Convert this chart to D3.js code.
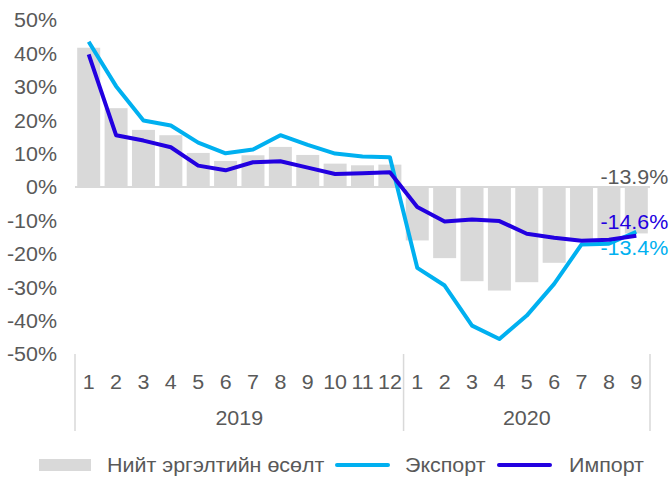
<!DOCTYPE html>
<html><head><meta charset="utf-8">
<script src="https://cdn.jsdelivr.net/npm/d3@7"></script>
<style>body{margin:0;background:#fff;} svg{display:block;font-family:"Liberation Sans",Arial,sans-serif;}</style>
</head><body>
<svg id="c" width="670" height="479"></svg>
<script>
const months = ["1","2","3","4","5","6","7","8","9","10","11","12","1","2","3","4","5","6","7","8","9"];
const years = [{label:"2019", n:12},{label:"2020", n:9}];
const totalGrowth = [41.7,23.6,17.1,15.5,10.2,7.8,9.5,12.0,9.6,7.0,6.5,6.7,-16.0,-21.3,-28.2,-31.0,-28.5,-22.7,-15.8,-15.3,-13.9];
const exportGrowth = [43.5,30.2,19.9,18.4,13.3,10.1,11.2,15.5,12.6,10.0,9.1,8.9,-24.2,-29.5,-41.5,-45.5,-38.5,-29.0,-17.2,-17.0,-13.4];
const importGrowth = [39.7,15.5,13.9,11.9,6.4,5.0,7.4,7.7,5.8,3.9,4.1,4.4,-6.0,-10.3,-9.7,-10.2,-14.0,-15.2,-16.1,-15.8,-14.6];
const yTicks = [50,40,30,20,10,0,-10,-20,-30,-40,-50];
const endLabels = ["-13.9%","-14.6%","-13.4%"];
const legendLabels = ["Нийт эргэлтийн өсөлт","Экспорт","Импорт"];

const cGray="#D9D9D9", cExp="#00B0F0", cImp="#2200E0", cText="#595959";
const FS = "19.5px", SX = 1.1, LW = 4;
const svg = d3.select("#c");
const idx = d3.range(months.length);
const x = d3.scaleBand().domain(idx).range([75,650]).paddingInner(0.16).paddingOuter(0.08);
const xc = i => x(i) + x.bandwidth()/2;
const y = d3.scaleLinear().domain([-50,50]).range([354,20]);

function label(g, px, py, str, anchor, fill){
  return g.append("text").attr("transform",`translate(${px},${py}) scale(${SX},1)`)
    .attr("dy","0.35em").attr("text-anchor",anchor).attr("fill",fill).style("font-size",FS).text(str);
}

// y axis labels
const yAxis = d3.axisLeft(y).tickValues(yTicks).tickFormat(d=>d+"%").tickSize(0).tickPadding(0);
const ga = svg.append("g").attr("transform","translate(57,0)").call(yAxis);
ga.select(".domain").remove();
ga.selectAll("text").attr("fill",cText).style("font-size",FS).style("font-family","Liberation Sans, Arial, sans-serif")
  .attr("dy","0.35em").attr("x",0).attr("transform",`scale(${SX},1)`);

// bars
svg.append("g").selectAll("rect").data(idx).join("rect")
  .attr("x", i=>x(i)).attr("width", x.bandwidth())
  .attr("y", i=>y(Math.max(0,totalGrowth[i])))
  .attr("height", i=>Math.abs(y(totalGrowth[i])-y(0)))
  .attr("fill", cGray);

// zero line
svg.append("line").attr("x1",75).attr("x2",650).attr("y1",y(0)).attr("y2",y(0))
  .attr("stroke",cGray).attr("stroke-width",2);

// lines
const line = arr => d3.line().x(i=>xc(i)).y(i=>y(arr[i]))(idx);
svg.append("path").attr("d",line(exportGrowth)).attr("fill","none").attr("stroke",cExp).attr("stroke-width",LW).attr("stroke-linejoin","round");
svg.append("path").attr("d",line(importGrowth)).attr("fill","none").attr("stroke",cImp).attr("stroke-width",LW).attr("stroke-linejoin","round");

// end labels
const last = months.length-1;
const lx = xc(last)+32;
label(svg, lx, y(totalGrowth[last])-56, endLabels[0], "end", cText);
label(svg, lx, y(importGrowth[last])-14, endLabels[1], "end", cImp);
label(svg, lx, y(exportGrowth[last])+16, endLabels[2], "end", cExp);

// x axis: month labels
const gm = svg.append("g");
idx.forEach(i=>label(gm, xc(i), 382, months[i], "middle", cText));

// year groups & dividers
let start = 0;
const bounds = [75];
years.forEach(yr=>{
  const x0 = 75 + start*575/months.length, x1 = 75 + (start+yr.n)*575/months.length;
  label(svg, (x0+x1)/2, 418, yr.label, "middle", cText);
  bounds.push(x1);
  start += yr.n;
});
svg.append("g").selectAll("line").data(bounds).join("line")
  .attr("x1",d=>d).attr("x2",d=>d).attr("y1",354).attr("y2",431)
  .attr("stroke",cGray).attr("stroke-width",1.5);

// legend
const lg = svg.append("g");
lg.append("rect").attr("x",39).attr("y",459).attr("width",52).attr("height",12).attr("fill",cGray);
label(lg, 107, 465, legendLabels[0], "start", cText);
lg.append("line").attr("x1",337).attr("x2",388).attr("y1",465).attr("y2",465).attr("stroke",cExp).attr("stroke-width",LW).attr("stroke-linecap","round");
label(lg, 405, 465, legendLabels[1], "start", cText);
lg.append("line").attr("x1",499).attr("x2",550).attr("y1",465).attr("y2",465).attr("stroke",cImp).attr("stroke-width",LW).attr("stroke-linecap","round");
label(lg, 569, 465, legendLabels[2], "start", cText);
</script>
</body></html>
